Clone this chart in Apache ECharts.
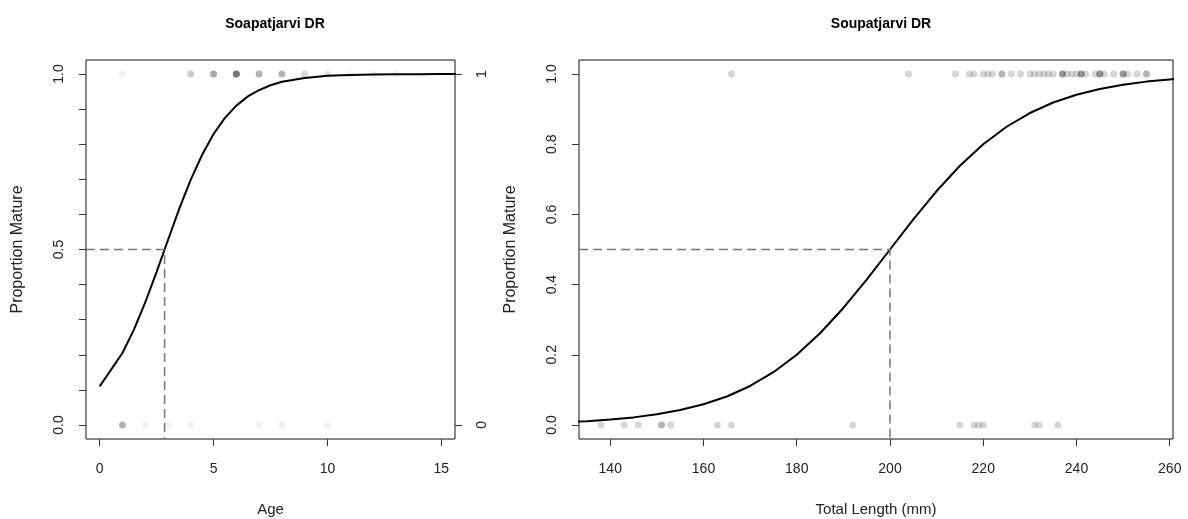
<!DOCTYPE html>
<html>
<head>
<meta charset="utf-8">
<script src="https://cdn.jsdelivr.net/npm/echarts@6/dist/echarts.min.js"></script>
<style>
  html, body { margin: 0; padding: 0; background: #ffffff; }
  #chart { width: 1188px; height: 519px; }
</style>
</head>
<body>
<div id="chart"></div>
<script>
// ---- Age-at-maturity panel (Soapatjarvi DR) ----
const ageTicks = [0, 5, 10, 15];
const ageYTicks = [0, 0.1, 0.2, 0.3, 0.4, 0.5, 0.6, 0.7, 0.8, 0.9, 1];
const ageYLabels = [0, 0.5, 1];
const ageSideLabels = [0, 1];
// mature fish (y = 1) by age, with number of fish at that age
const ageMatureAges = [1, 4, 5, 6, 7, 8, 9, 10, 11, 12, 13];
const ageMatureCounts = [1, 4, 7, 13, 6, 6, 3, 2, 1, 1, 1];
// immature fish (y = 0)
const ageImmatureAges = [1, 2, 3, 4, 7, 8, 10];
const ageImmatureCounts = [6, 1, 1, 1, 1, 1, 1];
// fitted logistic curve
const ageCurveX = [0, 1, 1.5, 2, 2.5, 3, 3.5, 4, 4.5, 5, 5.5, 6, 6.5, 7, 7.5, 8, 9, 10, 11, 12, 13, 14, 15, 16];
const ageCurveP = [0.110, 0.205, 0.271, 0.349, 0.436, 0.527, 0.617, 0.699, 0.770, 0.829, 0.875, 0.910, 0.936,
                   0.954, 0.968, 0.978, 0.989, 0.995, 0.9975, 0.9988, 0.9994, 0.9997, 0.9999, 0.99995];
const ageA50 = 2.85;

// ---- Length-at-maturity panel (Soupatjarvi DR) ----
const lenTicks = [140, 160, 180, 200, 220, 240, 260];
const lenYTicks = [0, 0.2, 0.4, 0.6, 0.8, 1];
const lenMature = [166, 204, 214, 217, 218, 220, 221, 222, 224, 224, 226, 228, 230, 231, 232, 233, 234, 235,
                   237, 237, 237, 238, 239, 240, 241, 241, 241, 242, 244, 245, 245, 245, 246, 248,
                   250, 250, 250, 251, 253, 255, 255];
const lenImmature = [138, 143, 146, 151, 151, 153, 163, 166, 192, 215, 218, 219, 220, 231, 232, 236];
const lenCurveX = [133, 135, 140, 145, 150, 155, 160, 165, 170, 175, 180, 185, 190, 195, 200,
                   205, 210, 215, 220, 225, 230, 235, 240, 245, 250, 255, 260, 262];
const lenCurveP = [0.0095, 0.0109, 0.0154, 0.0216, 0.0303, 0.0424, 0.0589, 0.0812, 0.1111, 0.1503, 0.2000,
                   0.2612, 0.3334, 0.4142, 0.5000, 0.5858, 0.6666, 0.7388, 0.8000, 0.8498, 0.8889, 0.9188,
                   0.9411, 0.9576, 0.9697, 0.9784, 0.9846, 0.9866];
const lenL50 = 200;

// axis extents (4% padding around the data, as in base graphics)
const ageXMin = -0.6, ageXMax = 15.6;
const lenXMin = 133.3, lenXMax = 260.7;
const yMin = -0.04, yMax = 1.04;

function expand(xs, counts, y) {
  const out = [];
  xs.forEach((x, i) => { for (let k = 0; k < counts[i]; k++) out.push([x, y]); });
  return out;
}
function pairs(xs, ys) { return xs.map((x, i) => [x, ys[i]]); }

const FONT = '"Liberation Sans", Arial, Helvetica, sans-serif';
const tickColor = '#333';

function xAxisFor(gridIndex, min, max, ticks, name) {
  return {
    type: 'value', gridIndex, min, max,
    splitLine: { show: false },
    axisLine: { show: false, onZero: false },
    axisTick: { show: true, length: 7, customValues: ticks, lineStyle: { color: tickColor, width: 1 } },
    axisLabel: { customValues: ticks, margin: 23, color: '#222', fontFamily: FONT, fontSize: 14 },
    name, nameLocation: 'middle', nameGap: 63,
    nameTextStyle: { color: '#222', fontFamily: FONT, fontSize: 15 }
  };
}
function yAxisFor(gridIndex, ticks, labels, fmt, name, position) {
  return {
    type: 'value', gridIndex, min: yMin, max: yMax, position: position || 'left',
    splitLine: { show: false },
    axisLine: { show: false, onZero: false },
    axisTick: { show: true, length: 7, customValues: ticks, lineStyle: { color: tickColor, width: 1 } },
    axisLabel: { customValues: labels, rotate: 90, margin: 20, color: '#222', fontFamily: FONT, fontSize: 14, formatter: fmt },
    name: name || '', nameLocation: 'middle', nameGap: 60, nameRotate: 90,
    nameTextStyle: { color: '#222', fontFamily: FONT, fontSize: 16 }
  };
}

const chart = echarts.init(document.getElementById('chart'), null, { renderer: 'canvas' });
const option = {
  animation: false,
  backgroundColor: '#ffffff',
  title: [
    { text: 'Soapatjarvi DR', left: 270, top: 12, textAlign: 'center',
      textStyle: { fontFamily: FONT, fontWeight: 'bold', fontSize: 14, color: '#000' } },
    { text: 'Soupatjarvi DR', left: 876, top: 12, textAlign: 'center',
      textStyle: { fontFamily: FONT, fontWeight: 'bold', fontSize: 14, color: '#000' } }
  ],
  grid: [
    { left: 86, top: 60, width: 369, height: 379, containLabel: false, outerBoundsMode: 'none',
      show: true, borderColor: '#111', borderWidth: 1, backgroundColor: 'transparent' },
    { left: 579, top: 60, width: 594, height: 379, containLabel: false, outerBoundsMode: 'none',
      show: true, borderColor: '#111', borderWidth: 1, backgroundColor: 'transparent' }
  ],
  xAxis: [
    xAxisFor(0, ageXMin, ageXMax, ageTicks, 'Age'),
    xAxisFor(1, lenXMin, lenXMax, lenTicks, 'Total Length (mm)')
  ],
  yAxis: [
    yAxisFor(0, ageYTicks, ageYLabels, v => v.toFixed(1), 'Proportion Mature'),
    yAxisFor(0, ageSideLabels, ageSideLabels, v => String(v), '', 'right'),
    yAxisFor(1, lenYTicks, lenYTicks, v => v.toFixed(1), 'Proportion Mature')
  ],
  series: [
    // age panel
    { type: 'scatter', xAxisIndex: 0, yAxisIndex: 0, symbolSize: 7, silent: true,
      itemStyle: { color: 'rgba(0,0,0,0.07)' },
      data: expand(ageMatureAges, ageMatureCounts, 1).concat(expand(ageImmatureAges, ageImmatureCounts, 0)) },
    { type: 'line', xAxisIndex: 0, yAxisIndex: 0, symbol: 'none', silent: true, clip: true,
      lineStyle: { color: '#000', width: 2 }, data: pairs(ageCurveX, ageCurveP) },
    { type: 'line', xAxisIndex: 0, yAxisIndex: 0, symbol: 'none', silent: true,
      lineStyle: { color: '#777', width: 1.5, type: [9, 5] },
      data: [[ageXMin, 0.5], [ageA50, 0.5], [ageA50, yMin]] },
    // length panel
    { type: 'scatter', xAxisIndex: 1, yAxisIndex: 2, symbolSize: 7, silent: true,
      itemStyle: { color: 'rgba(0,0,0,0.2)' },
      data: lenMature.map(v => [v, 1]).concat(lenImmature.map(v => [v, 0])) },
    { type: 'line', xAxisIndex: 1, yAxisIndex: 2, symbol: 'none', silent: true, clip: true,
      lineStyle: { color: '#000', width: 2 }, data: pairs(lenCurveX, lenCurveP) },
    { type: 'line', xAxisIndex: 1, yAxisIndex: 2, symbol: 'none', silent: true,
      lineStyle: { color: '#777', width: 1.5, type: [9, 5] },
      data: [[lenXMin, 0.5], [lenL50, 0.5], [lenL50, yMin]] }
  ]
};
chart.setOption(option);
</script>
</body>
</html>
